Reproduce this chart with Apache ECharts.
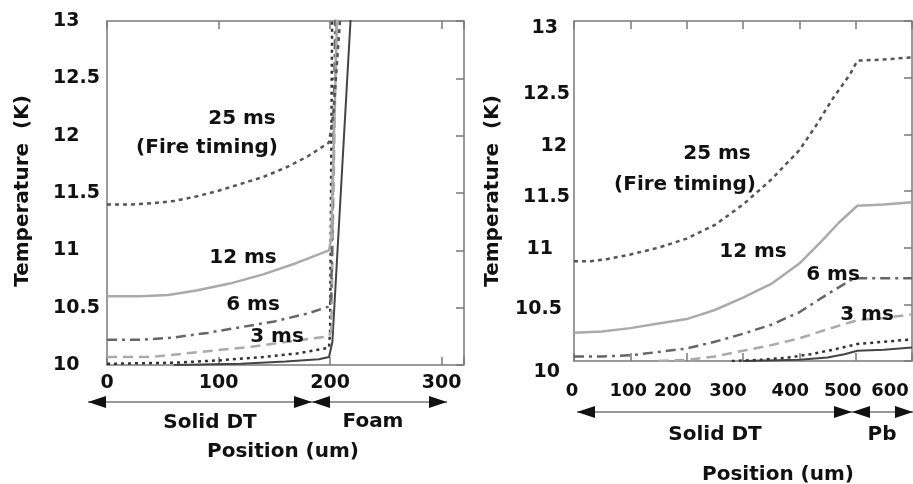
<!DOCTYPE html>
<html>
<head>
<meta charset="utf-8">
<script src="https://cdn.jsdelivr.net/npm/echarts@6/dist/echarts.min.js"></script>
<style>
  html, body { margin: 0; padding: 0; background: #fff; }
  #chart { width: 913px; height: 484px; }
</style>
</head>
<body>
<div id="chart"></div>
<script>
// tick labels
var yTicks = [10, 10.5, 11, 11.5, 12, 12.5, 13];
var leftXTicks = [0, 100, 200, 300];
var rightXTicks = [0, 100, 200, 300, 400, 500, 600];

// left panel: Solid DT + foam, position (um) vs temperature (K)
var left25ms = [[0,11.40],[20,11.40],[40,11.41],[60,11.43],[80,11.47],[100,11.52],[120,11.58],[140,11.64],[160,11.72],[180,11.82],[199,11.94],[203,12.2],[211,13.3]];
var left12ms = [[0,10.60],[30,10.60],[55,10.61],[80,10.65],[110,10.71],[140,10.79],[170,10.89],[199,11.0],[201,11.1],[207,13.3]];
var left6ms  = [[0,10.22],[30,10.22],[60,10.24],[90,10.28],[120,10.33],[150,10.38],[180,10.45],[199,10.51],[201,10.6],[205,13.3]];
var left3ms  = [[0,10.07],[40,10.07],[70,10.10],[100,10.13],[130,10.16],[160,10.20],[199,10.25],[201,10.3],[206,13.3]];
var left1ms  = [[0,10.01],[60,10.02],[100,10.04],[140,10.07],[170,10.10],[199,10.15],[200,10.3],[202,13.3]];
var left0ms  = [[60,10.0],[120,10.01],[160,10.03],[190,10.05],[199,10.07],[202,10.2],[220,13.3]];

// right panel: Solid DT + Pb
var right25ms = [[0,10.88],[30,10.88],[60,10.90],[100,10.94],[150,11.0],[200,11.08],[250,11.2],[300,11.38],[350,11.6],[400,11.86],[430,12.08],[460,12.32],[490,12.53],[503,12.65],[550,12.66],[600,12.68]];
var right12ms = [[0,10.25],[50,10.26],[100,10.29],[150,10.33],[200,10.37],[250,10.45],[300,10.56],[350,10.68],[400,10.86],[440,11.06],[470,11.22],[503,11.37],[550,11.38],[600,11.40]];
var right6ms  = [[0,10.04],[50,10.04],[100,10.05],[150,10.08],[200,10.11],[250,10.17],[300,10.24],[350,10.32],[400,10.43],[450,10.59],[490,10.71],[505,10.73],[600,10.73]];
var right3ms  = [[150,10.0],[200,10.01],[250,10.04],[300,10.09],[350,10.14],[400,10.2],[450,10.28],[503,10.36],[550,10.38],[600,10.41]];
var right1ms  = [[280,10.0],[330,10.01],[380,10.03],[420,10.06],[460,10.1],[503,10.15],[550,10.17],[600,10.19]];
var right0ms  = [[300,10.0],[400,10.01],[450,10.03],[480,10.06],[503,10.09],[550,10.10],[600,10.12]];

var FONT = '"DejaVu Sans", sans-serif';
var frame = '#7a7a7a';

var styles = {
  s25: { color: '#555', width: 2.5, type: [4, 4] },
  s12: { color: '#aaa', width: 2.5, type: 'solid' },
  s6:  { color: '#666', width: 2.5, type: [10, 5, 3, 5] },
  s3:  { color: '#aaa', width: 2.5, type: [10, 6] },
  s1:  { color: '#333', width: 2.5, type: [3, 4] },
  s0:  { color: '#444', width: 2, type: 'solid' }
};

function line(data, st, idx) {
  return {
    type: 'line', data: data, xAxisIndex: idx, yAxisIndex: idx,
    symbol: 'none', showSymbol: false, animation: false,
    lineStyle: { color: st.color, width: st.width, type: st.type }
  };
}

// per-label nudges for the right panel (the original labels are hand placed)
var rxShift = { 0: 2, 100: 2, 200: 14, 300: 15, 400: 9, 500: 13, 600: 22 };
var ryShift = { '10': [11, 10], '10.5': [5, 8], '11': [1, 17], '11.5': [6, 0], '12': [12, 3], '12.5': [16, 0], '13': [7, 12] };

var rxRich = {};
rightXTicks.forEach(function (v) {
  rxRich['r' + v] = { fontFamily: FONT, fontWeight: 'bold', fontSize: 18, color: '#111', padding: [0, rxShift[v] * 2, 0, 0] };
});
var ryRich = {};
yTicks.forEach(function (v, i) {
  var s = ryShift[String(v)];
  ryRich['y' + i] = { fontFamily: FONT, fontWeight: 'bold', fontSize: 19, color: '#111', padding: [s[0] * 2, s[1], 0, 0] };
});

var tickStyle = { show: true, inside: true, length: 8, lineStyle: { color: frame, width: 1.5 } };

function tickAxis(pos, gi, min, max, interval) {
  return {
    type: 'value', gridIndex: gi, position: pos, min: min, max: max, interval: interval,
    axisLine: { show: false, onZero: false }, splitLine: { show: false }, axisLabel: { show: false },
    axisTick: tickStyle
  };
}

var myChart = echarts.init(document.getElementById('chart'));
var option = {
  backgroundColor: '#fff',
  animation: false,
  grid: [
    { left: 107, top: 21, width: 357, height: 344, show: true, borderColor: frame, borderWidth: 1.5, backgroundColor: 'transparent' },
    { left: 574, top: 21, width: 338, height: 340, show: true, borderColor: frame, borderWidth: 1.5, backgroundColor: 'transparent' }
  ],
  xAxis: [
    {
      type: 'value', gridIndex: 0, position: 'bottom', min: 0, max: 320, interval: 100,
      axisLine: { show: false, onZero: false }, splitLine: { show: false },
      axisTick: tickStyle,
      axisLabel: {
        margin: 9, fontFamily: FONT, fontWeight: 'bold', fontSize: 19, color: '#111',
        formatter: function (v) { return leftXTicks.indexOf(v) >= 0 ? String(v) : ''; }
      }
    },
    tickAxis('top', 0, 0, 320, 100),
    {
      type: 'value', gridIndex: 1, position: 'bottom', min: 0, max: 600, interval: 100,
      axisLine: { show: false, onZero: false }, splitLine: { show: false },
      axisTick: tickStyle,
      axisLabel: {
        margin: 21, fontFamily: FONT, fontWeight: 'bold', fontSize: 18, color: '#111',
        showMaxLabel: true, rich: rxRich,
        formatter: function (v) { return '{r' + v + '|' + v + '}'; }
      }
    },
    tickAxis('top', 1, 0, 600, 100)
  ],
  yAxis: [
    {
      type: 'value', gridIndex: 0, position: 'left', min: 10, max: 13, interval: 0.5,
      axisLine: { show: false, onZero: false }, splitLine: { show: false }, axisTick: { show: false },
      axisLabel: { align: 'left', margin: 54, fontFamily: FONT, fontWeight: 'bold', fontSize: 19, color: '#111' }
    },
    tickAxis('right', 0, 10, 13, 0.5),
    {
      type: 'value', gridIndex: 1, position: 'left', min: 10, max: 13, interval: 0.5,
      axisLine: { show: false, onZero: false }, splitLine: { show: false }, axisTick: { show: false },
      axisLabel: {
        align: 'right', margin: 4, fontFamily: FONT, fontWeight: 'bold', fontSize: 19, color: '#111',
        rich: ryRich,
        formatter: function (v) { return '{y' + yTicks.indexOf(v) + '|' + v + '}'; }
      }
    },
    tickAxis('right', 1, 10, 13, 0.5)
  ],
  series: [
    line(left0ms, styles.s0, 0),
    line(left1ms, styles.s1, 0),
    line(left3ms, styles.s3, 0),
    line(left6ms, styles.s6, 0),
    line(left12ms, styles.s12, 0),
    line(left25ms, styles.s25, 0),
    line(right0ms, styles.s0, 2),
    line(right1ms, styles.s1, 2),
    line(right3ms, styles.s3, 2),
    line(right6ms, styles.s6, 2),
    line(right12ms, styles.s12, 2),
    line(right25ms, styles.s25, 2)
  ],
  graphic: []
};

function txt(s, x, y, rot) {
  var el = {
    type: 'text', x: x, y: y, z: 100,
    style: { text: s, font: 'bold 20px ' + FONT, fill: '#111', align: 'center', verticalAlign: 'middle' }
  };
  if (rot) el.rotation = rot;
  return el;
}
function head(tip, y, dir) {
  return {
    type: 'polygon', z: 100,
    shape: { points: [[tip, y], [tip - dir * 18, y - 6], [tip - dir * 18, y + 6]] },
    style: { fill: '#111' }
  };
}
function hline(x1, x2, y) {
  return { type: 'line', z: 99, shape: { x1: x1, y1: y, x2: x2, y2: y }, style: { stroke: '#333', lineWidth: 1.2 } };
}

var g = option.graphic;
// left panel annotations
g.push(txt('25 ms', 242, 119), txt('(Fire timing)', 207, 148), txt('12 ms', 243, 258), txt('6 ms', 253, 305), txt('3 ms', 277, 337));
g.push(txt('Temperature  (K)', 23, 191, Math.PI / 2));
g.push(hline(88, 447, 402), head(88, 402, -1), head(312, 402, 1), head(312, 402, -1), head(447, 402, 1));
g.push(txt('Solid DT', 210, 423), txt('Foam', 373, 422), txt('Position (um)', 283, 452));
// right panel annotations
g.push(txt('25 ms', 717, 154), txt('(Fire timing)', 685, 185), txt('12 ms', 753, 252), txt('6 ms', 833, 275), txt('3 ms', 867, 315));
g.push(txt('Temperature  (K)', 493, 191, Math.PI / 2));
g.push(hline(577, 913, 412), head(577, 412, -1), head(852, 412, 1), head(852, 412, -1), head(913, 412, 1));
g.push(txt('Solid DT', 715, 435), txt('Pb', 882, 435), txt('Position (um)', 778, 475));

myChart.setOption(option, true);
</script>
</body>
</html>
